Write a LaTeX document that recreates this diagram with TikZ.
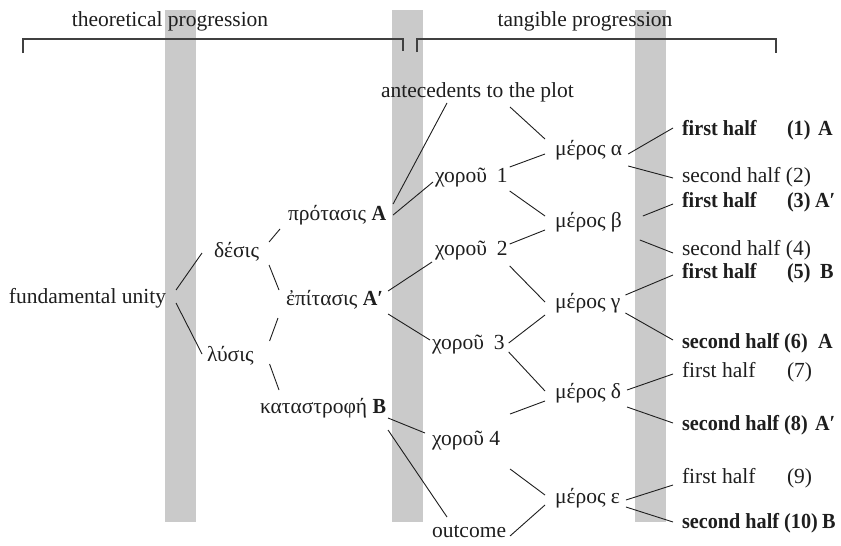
\documentclass[tikz,border=0pt]{standalone}
\usepackage{fontspec}
\setmainfont{Liberation Serif}[BoldFeatures={FakeStretch=0.94}]
\definecolor{barfill}{HTML}{CACACA}
\definecolor{ink}{HTML}{1E1E1E}
\definecolor{brace}{HTML}{404040}
\begin{document}
\begin{tikzpicture}[x=1pt,y=-1pt,
  every node/.style={inner sep=0pt,outer sep=0pt,text=ink,
    font=\fontsize{21.5}{26}\selectfont},
  lbl/.style={anchor=base west},
  ttl/.style={anchor=base},
  link/.style={draw=ink,line width=0.9pt},
  bracket/.style={draw=brace,line width=1.4pt},
  bar/.style={fill=barfill,draw=none}]
\useasboundingbox (0,0) rectangle (841,546);

% grey vertical bands
\fill[bar] (165,10) rectangle (196,522);
\fill[bar] (392,10) rectangle (423,522);
\fill[bar] (635,10) rectangle (666,522);

% headings and brackets
\node[ttl] (t1) at (170,26) {theoretical progression};
\node[ttl] (t2) at (585,26) {tangible progression};
\draw[bracket] (23,53) -- (23,39) -- (403,39) -- (403,51);
\draw[bracket] (417,52) -- (417,39) -- (776,39) -- (776,53);

% tree nodes
\node[lbl] (fu) at (9,303)   {fundamental unity};
\node[lbl] (de) at (214,257) {δέσις};
\node[lbl] (ly) at (207,361) {λύσις};
\node[lbl] (pr) at (288,220) {πρότασις \textbf{A}};
\node[lbl] (ep) at (286,305) {ἐπίτασις \textbf{A′}};
\node[lbl] (ka) at (260,413) {καταστροφή \textbf{B}};
\node[lbl] (an) at (381,97)  {antecedents to the plot};
\node[lbl] (c1) at (435,182) {χοροῦ\hspace{10pt}1};
\node[lbl] (c2) at (435,255) {χοροῦ\hspace{10pt}2};
\node[lbl] (c3) at (432,349) {χοροῦ\hspace{10pt}3};
\node[lbl] (c4) at (432,445) {χοροῦ 4};
\node[lbl] (ou) at (432,537) {outcome};
\node[lbl] (ma) at (555,155) {μέρος α};
\node[lbl] (mb) at (555,227) {μέρος β};
\node[lbl] (mg) at (555,308) {μέρος γ};
\node[lbl] (md) at (555,398) {μέρος δ};
\node[lbl] (me) at (555,503) {μέρος ε};

% halves, numbers and letters
\node[lbl] (h1)  at (682,135) {\textbf{first half}};
\node[lbl] (n1)  at (787,135) {\textbf{(1)}};
\node[lbl] (l1)  at (818,135) {\textbf{A}};
\node[lbl] (h2)  at (682,182) {second half (2)};
\node[lbl] (h3)  at (682,207) {\textbf{first half}};
\node[lbl] (n3)  at (787,207) {\textbf{(3)}};
\node[lbl] (l3)  at (815,207) {\textbf{A′}};
\node[lbl] (h4)  at (682,255) {second half (4)};
\node[lbl] (h5)  at (682,278) {\textbf{first half}};
\node[lbl] (n5)  at (787,278) {\textbf{(5)}};
\node[lbl] (l5)  at (820,278) {\textbf{B}};
\node[lbl] (h6)  at (682,348) {\textbf{second half (6)}};
\node[lbl] (l6)  at (818,348) {\textbf{A}};
\node[lbl] (h7)  at (682,377) {first half};
\node[lbl] (n7)  at (787,377) {(7)};
\node[lbl] (h8)  at (682,430) {\textbf{second half (8)}};
\node[lbl] (l8)  at (815,430) {\textbf{A′}};
\node[lbl] (h9)  at (682,483) {first half};
\node[lbl] (n9)  at (787,483) {(9)};
\node[lbl] (h10) at (682,528) {\textbf{second half (10)}};
\node[lbl] (l10) at (822,528) {\textbf{B}};

% connectors
\draw[link] ([shift={(10,-13)}]fu.base east) -- ([shift={(-12,-4)}]de.base west);
\draw[link] ([shift={(10,0)}]fu.base east)   -- ([shift={(-5,-7)}]ly.base west);
\draw[link] ([shift={(10,-15)}]de.base east) -- ([shift={(-8,9)}]pr.base west);
\draw[link] ([shift={(10,8)}]de.base east)   -- ([shift={(-7,-15)}]ep.base west);
\draw[link] ([shift={(16,-20)}]ly.base east) -- ([shift={(-8,13)}]ep.base west);
\draw[link] ([shift={(16,3)}]ly.base east)   -- ([shift={(19,-23)}]ka.base west);
\draw[link] ([shift={(7,-16)}]pr.base east)  -- ([shift={(66,6)}]an.base west);
\draw[link] ([shift={(7,-5)}]pr.base east)   -- ([shift={(-2,0)}]c1.base west);
\draw[link] ([shift={(5,-14)}]ep.base east)  -- ([shift={(-3,7)}]c2.base west);
\draw[link] ([shift={(5,9)}]ep.base east)    -- ([shift={(-2,-9)}]c3.base west);
\draw[link] ([shift={(2,5)}]ka.base east)    -- ([shift={(-7,-12)}]c4.base west);
\draw[link] ([shift={(2,17)}]ka.base east)   -- ([shift={(15,-20)}]ou.base west);
\draw[link] ([shift={(129,10)}]an.base west) -- ([shift={(-10,-16)}]ma.base west);
\draw[link] ([shift={(2,-15)}]c1.base east)  -- ([shift={(-10,-1)}]ma.base west);
\draw[link] ([shift={(2,9)}]c1.base east)    -- ([shift={(-10,-11)}]mb.base west);
\draw[link] ([shift={(2,-11)}]c2.base east)  -- ([shift={(-10,3)}]mb.base west);
\draw[link] ([shift={(2,11)}]c2.base east)   -- ([shift={(-10,-6)}]mg.base west);
\draw[link] ([shift={(4,-6)}]c3.base east)   -- ([shift={(-10,7)}]mg.base west);
\draw[link] ([shift={(4,3)}]c3.base east)    -- ([shift={(-10,-7)}]md.base west);
\draw[link] ([shift={(10,-31)}]c4.base east) -- ([shift={(-10,3)}]md.base west);
\draw[link] ([shift={(10,24)}]c4.base east)  -- ([shift={(-10,-8)}]me.base west);
\draw[link] ([shift={(4,-1)}]ou.base east)   -- ([shift={(-10,2)}]me.base west);
\draw[link] ([shift={(6,-1)}]ma.base east)   -- ([shift={(-9,-7)}]h1.base west);
\draw[link] ([shift={(6,11)}]ma.base east)   -- ([shift={(-9,-4)}]h2.base west);
\draw[link] ([shift={(21,-11)}]mb.base east) -- ([shift={(-9,-3)}]h3.base west);
\draw[link] ([shift={(18,13)}]mb.base east)  -- ([shift={(-9,-2)}]h4.base west);
\draw[link] ([shift={(5,-13)}]mg.base east)  -- ([shift={(-9,-3)}]h5.base west);
\draw[link] ([shift={(5,5)}]mg.base east)    -- ([shift={(-9,-8)}]h6.base west);
\draw[link] ([shift={(6,-8)}]md.base east)   -- ([shift={(-9,-3)}]h7.base west);
\draw[link] ([shift={(6,9)}]md.base east)    -- ([shift={(-9,-7)}]h8.base west);
\draw[link] ([shift={(6,-3)}]me.base east)   -- ([shift={(-9,2)}]h9.base west);
\draw[link] ([shift={(6,4)}]me.base east)    -- ([shift={(-9,-6)}]h10.base west);
\end{tikzpicture}
\end{document}
